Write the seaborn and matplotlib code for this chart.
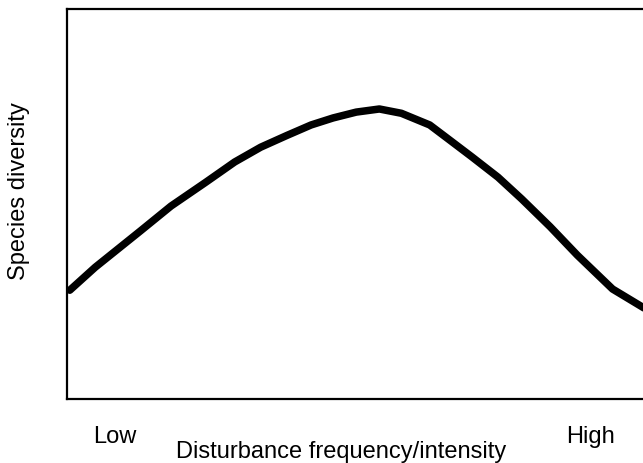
import numpy as np
import pandas as pd
import matplotlib
matplotlib.use("Agg")
import matplotlib.pyplot as plt
import seaborn as sns

# disturbance gradient (0 = low, 100 = high) and relative species diversity
disturbance = [0.5, 4.9, 12.7, 18.0, 24.0, 29.0, 33.5, 38.0, 42.2, 46.0, 50.0, 54.0,
               57.8, 62.7, 66.0, 70.0, 74.5, 78.6, 83.5, 88.2, 94.3, 100.0]
diversity = [27.9, 33.8, 43.1, 49.5, 55.6, 60.8, 64.6, 67.6, 70.3, 72.1, 73.6, 74.4,
             73.3, 70.3, 66.6, 62.1, 56.9, 51.3, 44.2, 36.9, 28.2, 23.1]
tick_pos = [8.3, 90.5]
tick_labels = ["Low", "High"]

df = pd.DataFrame({"disturbance": disturbance, "diversity": diversity})

sns.set_style("white")
plt.rcParams["font.family"] = ["Liberation Sans", "DejaVu Sans"]
plt.rcParams["text.color"] = "black"
plt.rcParams["axes.labelcolor"] = "black"
plt.rcParams["xtick.color"] = "black"

fig = plt.figure(figsize=(6.43, 4.64), dpi=100)
ax = fig.add_axes([0.104, 0.138, 0.9, 0.84])

sns.lineplot(data=df, x="disturbance", y="diversity", color="black",
             linewidth=5.4, ax=ax, solid_capstyle="round", solid_joinstyle="round")

ax.set_xlim(0, 100)
ax.set_ylim(0, 100)
ax.set_xticks(tick_pos)
ax.set_xticklabels(tick_labels, fontsize=17)
ax.set_yticks([])
ax.tick_params(axis="x", length=0, pad=19)
ax.set_xlabel("Disturbance frequency/intensity", fontsize=17)
ax.set_ylabel("Species diversity", fontsize=17)
ax.xaxis.set_label_coords(0.474, -0.105)
ax.yaxis.set_label_coords(-0.063, 0.536)

ax.spines["right"].set_visible(False)
for s in ["left", "top", "bottom"]:
    ax.spines[s].set_color("black")
    ax.spines[s].set_linewidth(1.6)

fig.savefig("out.png", dpi=100)
